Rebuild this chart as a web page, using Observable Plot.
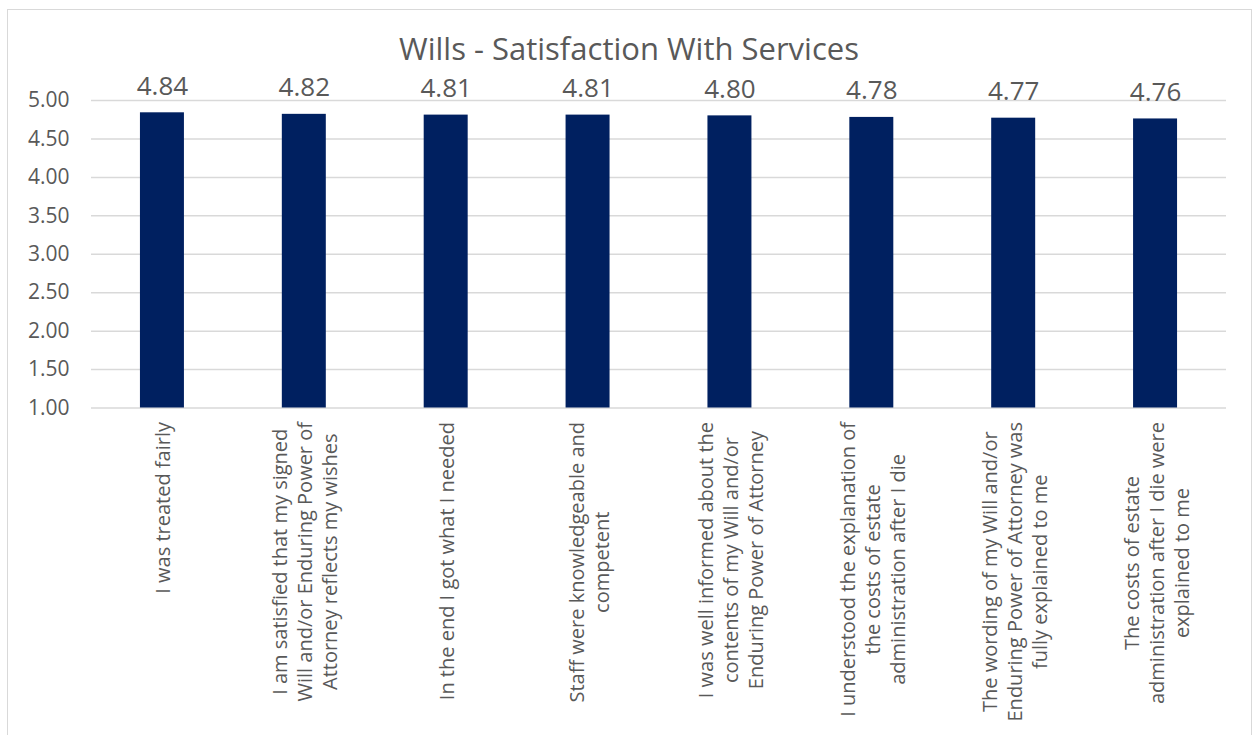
<!DOCTYPE html>
<html>
<head>
<meta charset="utf-8">
<script src="https://cdn.jsdelivr.net/npm/d3@7"></script>
<script src="https://cdn.jsdelivr.net/npm/@observablehq/plot@0.6"></script>
<style>
  html, body { margin: 0; padding: 0; background: #fff; width: 1258px; height: 735px; overflow: hidden; }
  #frame { position: absolute; left: 7px; top: 9px; width: 1245px; height: 760px; border: 1.5px solid #d9d9d9; box-sizing: border-box; }
  #title { position: absolute; left: 0; top: 0; width: 1258px; height: 70px; text-align: center; font-family: "Open Sans", sans-serif; font-size: 31px; color: #595959; line-height: 96px; }
  #chart { position: absolute; left: 0; top: 70px; }
</style>
</head>
<body>
<div id="frame"></div>
<div id="title">Wills - Satisfaction With Services</div>
<div id="chart"></div>
<script>
const categories = [
  "I was treated fairly",
  "I am satisfied that my signed\nWill and/or Enduring Power of\nAttorney reflects my wishes",
  "In the end I got what I needed",
  "Staff were knowledgeable and\ncompetent",
  "I was well informed about the\ncontents of my Will and/or\nEnduring Power of Attorney",
  "I understood the explanation of\nthe costs of estate\nadministration after I die",
  "The wording of my Will and/or\nEnduring Power of Attorney was\nfully explained to me",
  "The costs of estate\nadministration after I die were\nexplained to me"
];
const values = [4.84, 4.82, 4.81, 4.81, 4.80, 4.78, 4.77, 4.76];
const yTicks = [1.0, 1.5, 2.0, 2.5, 3.0, 3.5, 4.0, 4.5, 5.0];

const data = categories.map((c, i) => ({category: c, value: values[i]}));

const font = "'Open Sans', sans-serif";
const labelSize = 20;
const canvas = document.createElement("canvas");
const ctx = canvas.getContext("2d");
ctx.font = `${labelSize}px ${font}`;
const longest = categories.map(c => Math.max(...c.split("\n").map(l => ctx.measureText(l).width)));

const gray = "#595959";

const chart = Plot.plot({
  width: 1258,
  height: 665,
  marginTop: 30,
  marginBottom: 327.5,
  marginLeft: 91,
  marginRight: 32,
  style: {fontFamily: font, color: gray, background: "transparent", overflow: "visible"},
  x: {domain: categories, paddingInner: 0.69, paddingOuter: 0.345, round: false, axis: null},
  y: {domain: [1, 5], ticks: yTicks, label: null, tickFormat: d => d.toFixed(2)},
  marks: [
    Plot.gridY(yTicks, {stroke: "#d9d9d9", strokeOpacity: 1, strokeWidth: 1.5}),
    Plot.axisY(yTicks, {tickSize: 0, tickPadding: 22, fontSize: 21, label: null, tickFormat: d => d.toFixed(2), fill: gray}),
    Plot.barY(data, {x: "category", y1: 1, y2: "value", fill: "#002060"}),
    Plot.text(data, {x: "category", y: "value", text: d => d.value.toFixed(2), lineAnchor: "bottom", dy: -18, fontSize: 26, fill: gray}),
    ...data.map((d, i) => Plot.text([d], {
      x: "category", frameAnchor: "bottom", text: "category",
      rotate: -90, textAnchor: "middle", lineAnchor: "middle", lineHeight: 1.25,
      dy: 14 + longest[i] / 2, fontSize: labelSize, fill: gray
    }))
  ]
});
document.getElementById("chart").appendChild(chart);
</script>
</body>
</html>
